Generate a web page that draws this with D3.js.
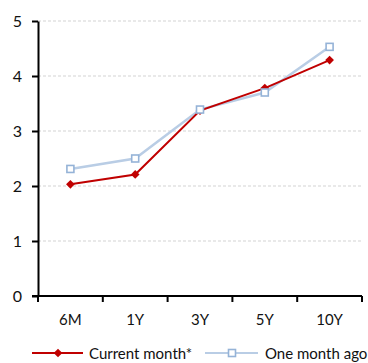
<!DOCTYPE html>
<html>
<head>
<meta charset="utf-8">
<script src="https://cdn.jsdelivr.net/npm/d3@7"></script>
<style>
  html, body { margin: 0; padding: 0; background: #fff; }
  svg text { font-family: Lato, "Open Sans", sans-serif; fill: #111; }
</style>
</head>
<body>
<svg id="chart" width="368" height="363"></svg>
<script>
// Yield curve: current month vs one month ago
const tenors = ["6M", "1Y", "3Y", "5Y", "10Y"];
const currentMonth = [2.03, 2.21, 3.37, 3.78, 4.29];
const monthAgo = [2.31, 2.50, 3.39, 3.70, 4.53];
const yTicks = [0, 1, 2, 3, 4, 5];
const seriesNames = ["Current month*", "One month ago"];

const svg = d3.select("#chart");
const margin = { left: 38, right: 6, top: 21, bottom: 67 };
const W = 368, H = 363;

const x = d3.scaleBand().domain(tenors).range([margin.left, W - margin.right]);
const y = d3.scaleLinear().domain([0, 5]).range([H - margin.bottom, margin.top]);

// dashed gridlines
svg.append("g")
  .selectAll("line")
  .data(yTicks.filter(d => d > 0))
  .join("line")
  .attr("x1", margin.left).attr("x2", W - margin.right)
  .attr("y1", d => y(d)).attr("y2", d => y(d))
  .attr("stroke", "#d4d4d4").attr("stroke-width", 1.2)
  .attr("stroke-dasharray", "3,2");

// y axis
const yAxis = svg.append("g")
  .attr("transform", `translate(${margin.left},0)`)
  .call(d3.axisLeft(y).tickValues(yTicks).tickFormat(d3.format("d"))
    .tickSize(6).tickSizeOuter(0).tickPadding(10));
yAxis.select(".domain").attr("stroke", "#000").attr("stroke-width", 2);
yAxis.selectAll(".tick line").attr("stroke", "#000").attr("stroke-width", 2);
yAxis.selectAll("text").style("font-size", "16px");

// x axis with ticks at band boundaries
const xAxisG = svg.append("g")
  .attr("transform", `translate(0,${y(0)})`);
xAxisG.append("line")
  .attr("x1", margin.left - 6).attr("x2", W - margin.right)
  .attr("stroke", "#000").attr("stroke-width", 2);
const bounds = tenors.map(t => x(t)).concat([x(tenors[tenors.length - 1]) + x.bandwidth()]);
xAxisG.selectAll("line.tk")
  .data(bounds)
  .join("line")
  .attr("class", "tk")
  .attr("x1", d => d).attr("x2", d => d)
  .attr("y1", 0).attr("y2", 6)
  .attr("stroke", "#000").attr("stroke-width", 2);
xAxisG.selectAll("text")
  .data(tenors)
  .join("text")
  .attr("x", d => x(d) + x.bandwidth() / 2)
  .attr("y", 29)
  .attr("text-anchor", "middle")
  .style("font-size", "15px")
  .text(d => d);

const cx = d => x(d) + x.bandwidth() / 2;
const line = d3.line().x((d, i) => cx(tenors[i])).y(d => y(d));

const blue = "#b9cde5", blueMark = "#95b3d7", red = "#c00000";

// one month ago
svg.append("path").datum(monthAgo)
  .attr("d", line).attr("fill", "none")
  .attr("stroke", blue).attr("stroke-width", 2.5);

// current month
svg.append("path").datum(currentMonth)
  .attr("d", line).attr("fill", "none")
  .attr("stroke", red).attr("stroke-width", 2);

svg.append("g").selectAll("path")
  .data(currentMonth)
  .join("path")
  .attr("transform", (d, i) => `translate(${cx(tenors[i])},${y(d)})`)
  .attr("d", d3.symbol(d3.symbolDiamond2, 48))
  .attr("fill", red);

svg.append("g").selectAll("rect")
  .data(monthAgo)
  .join("rect")
  .attr("x", (d, i) => cx(tenors[i]) - 3.5)
  .attr("y", d => y(d) - 3.5)
  .attr("width", 7).attr("height", 7)
  .attr("fill", "#fff")
  .attr("stroke", blueMark).attr("stroke-width", 1.6);

// legend
const ly = 353;
const leg = svg.append("g");
leg.append("line").attr("x1", 32).attr("x2", 83).attr("y1", ly).attr("y2", ly)
  .attr("stroke", red).attr("stroke-width", 2);
leg.append("path").attr("transform", `translate(58,${ly})`)
  .attr("d", d3.symbol(d3.symbolDiamond2, 48)).attr("fill", red);
leg.append("text").attr("x", 89).attr("y", ly + 5.5).style("font-size", "15px").text(seriesNames[0]);

leg.append("line").attr("x1", 205).attr("x2", 258).attr("y1", ly).attr("y2", ly)
  .attr("stroke", blue).attr("stroke-width", 2);
leg.append("rect").attr("x", 232 - 3.5).attr("y", ly - 3.5).attr("width", 7).attr("height", 7)
  .attr("fill", "#fff").attr("stroke", blueMark).attr("stroke-width", 1.6);
leg.append("text").attr("x", 265).attr("y", ly + 5.5).style("font-size", "15px").text(seriesNames[1]);
</script>
</body>
</html>
